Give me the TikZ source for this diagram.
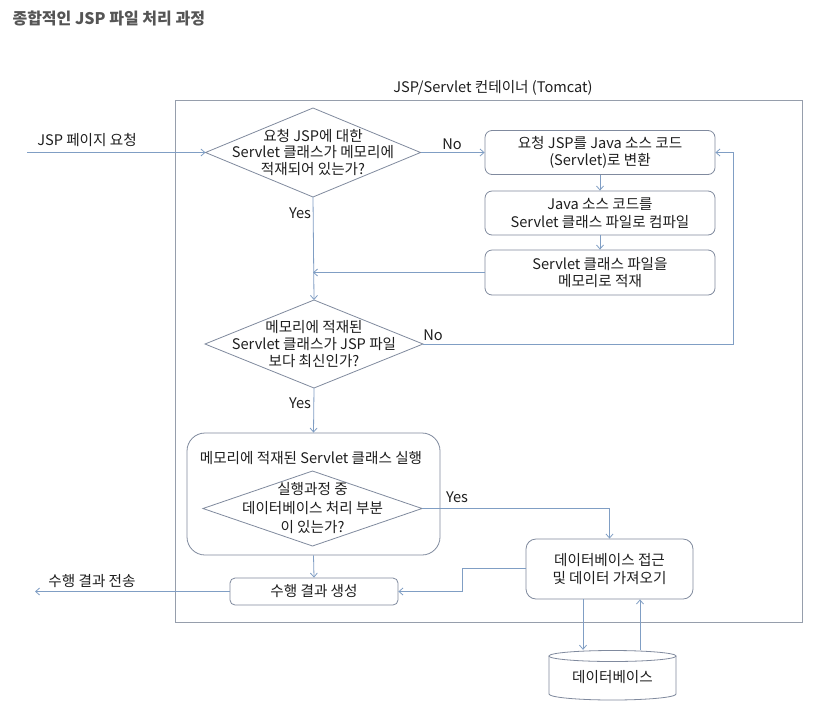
\documentclass[tikz,border=0pt]{standalone}
\usepackage{fontspec}
\setmainfont{Noto Sans CJK KR}
\usetikzlibrary{arrows.meta,shapes.geometric}
\definecolor{lnc}{RGB}{128,158,196}
\definecolor{bdc}{RGB}{128,138,158}
\definecolor{ctc}{RGB}{150,158,172}
\definecolor{txc}{RGB}{30,30,30}
\definecolor{ttc}{RGB}{85,85,85}
\begin{document}
\begin{tikzpicture}[x=1pt,y=-1pt,
  font=\fontsize{14.6}{17.5}\selectfont, text=txc,
  arr/.style={draw=lnc, line width=0.8pt, -{Straight Barb[length=4pt,width=7pt]}},
  box/.style={draw=bdc, line width=0.8pt, rounded corners=7pt, align=center, minimum width=230pt, minimum height=44pt, inner sep=0pt},
  dia/.style={draw=bdc, line width=0.8pt, diamond, inner sep=0pt, outer sep=0pt, minimum width=215pt, minimum height=89pt},
  lbl/.style={inner sep=0pt, align=center}]
\fill[white] (0,0) rectangle (824,710);
\useasboundingbox (0,0) rectangle (824,710);

\node[anchor=west, font=\fontsize{16}{19}\selectfont\bfseries, text=ttc] (title) at (9,18) {종합적인 JSP 파일 처리 과정};

% container
\node[draw=ctc, line width=0.8pt, minimum width=627pt, minimum height=522pt, inner sep=0pt] (cont) at (488.5,361) {};
\node[lbl] (contlbl) at (493,88) {JSP/Servlet 컨테이너 (Tomcat)};

% decision 1
\node[dia] (d1) at (313,152.5) {};
\node[lbl, font=\fontsize{14.6}{16.8}\selectfont] (d1t) at (d1) {요청 JSP에 대한\\Servlet 클래스가 메모리에\\적재되어 있는가?};

% boxes on the right
\node[box] (b1) at (600,152.5) {요청 JSP를 Java 소스 코드\\(Servlet)로 변환};
\node[box] (b2) at (600,213) {Java 소스 코드를\\Servlet 클래스 파일로 컴파일};
\node[box, minimum height=45pt] (b3) at (600,272.5) {Servlet 클래스 파일을\\메모리로 적재};

% decision 2
\node[dia, minimum width=218pt, minimum height=88pt] (d2) at (314,344) {};
\node[lbl, font=\fontsize{14.6}{16.8}\selectfont] (d2t) at (d2) {메모리에 적재된\\Servlet 클래스가 JSP 파일\\보다 최신인가?};

% big execution box
\node[draw=bdc, line width=0.8pt, rounded corners=18pt, minimum width=253pt, minimum height=122pt, inner sep=0pt] (big) at (313.5,494) {};
\node[lbl] (bigt) at (311,458) {메모리에 적재된 Servlet 클래스 실행};

% decision 3
\node[dia, minimum width=219pt, minimum height=75pt] (d3) at (312.5,508.5) {};
\node[lbl, font=\fontsize{14.6}{19}\selectfont] (d3t) at (d3) {실행과정 중\\데이터베이스 처리 부분\\이 있는가?};

% result box
\node[box, minimum width=168pt, minimum height=27pt, rounded corners=5pt] (res) at (314,591.5) {수행 결과 생성};

% DB access box
\node[box, minimum width=167pt, minimum height=60pt, rounded corners=10pt] (dbb) at (609.5,569) {데이터베이스 접근\\및 데이터 가져오기};

% database cylinder
\node[lbl, minimum width=127pt, minimum height=54pt] (db) at (612.5,677) {데이터베이스};
\draw[draw=bdc, line width=0.8pt] (549,656) -- (549,694) arc[start angle=180, end angle=360, x radius=63.5pt, y radius=6pt] -- (676,656);
\draw[draw=bdc, line width=0.8pt] (612.5,656) ellipse [x radius=63.5pt, y radius=5.5pt];

% free ends
\coordinate (in) at (27,152.5);
\coordinate (out) at (35,591.5);
\coordinate (noright) at (733,344);
\coordinate (jog) at (462,568);

% connectors
\draw[arr] (in) -- (d1.west);
\node[lbl, anchor=base] (inlbl) at (87,145) {JSP 페이지 요청};

\draw[arr] (d1.east) -- (b1.west);
\node[lbl] (no1) at (452,144) {No};

\draw[arr] (b1.south) -- (b2.north);
\draw[arr] (b2.south) -- (b3.north);
\draw[arr] (b3.west) -- (b3.west -| d1.south);

\draw[arr] (d1.south) -- (d2.north);
\node[lbl] (yes1) at (300,213) {Yes};

\draw[arr] (d2.east) -- (noright) |- (b1.east);
\node[lbl] (no2) at (433,335) {No};

\draw[arr] (d2.south) -- (big.north);
\node[lbl] (yes2) at (300,403) {Yes};

\draw[arr] (d3.east) -| (dbb.north);
\node[lbl] (yes3) at (457,497) {Yes};

\draw[arr] (big.south) -- (res.north);
\draw[arr] (dbb.west |- jog) -- (jog) |- (res.east);

\draw[arr] (res.west) -- (out);
\node[lbl, anchor=base] (outlbl) at (92,586) {수행 결과 전송};

\draw[arr] ([xshift=-26.5pt]dbb.south) -- ([xshift=-26.5pt]dbb.south |- db.north);
\draw[arr] ([xshift=30.5pt]dbb.south |- db.north) -- ([xshift=30.5pt]dbb.south);
\end{tikzpicture}
\end{document}
